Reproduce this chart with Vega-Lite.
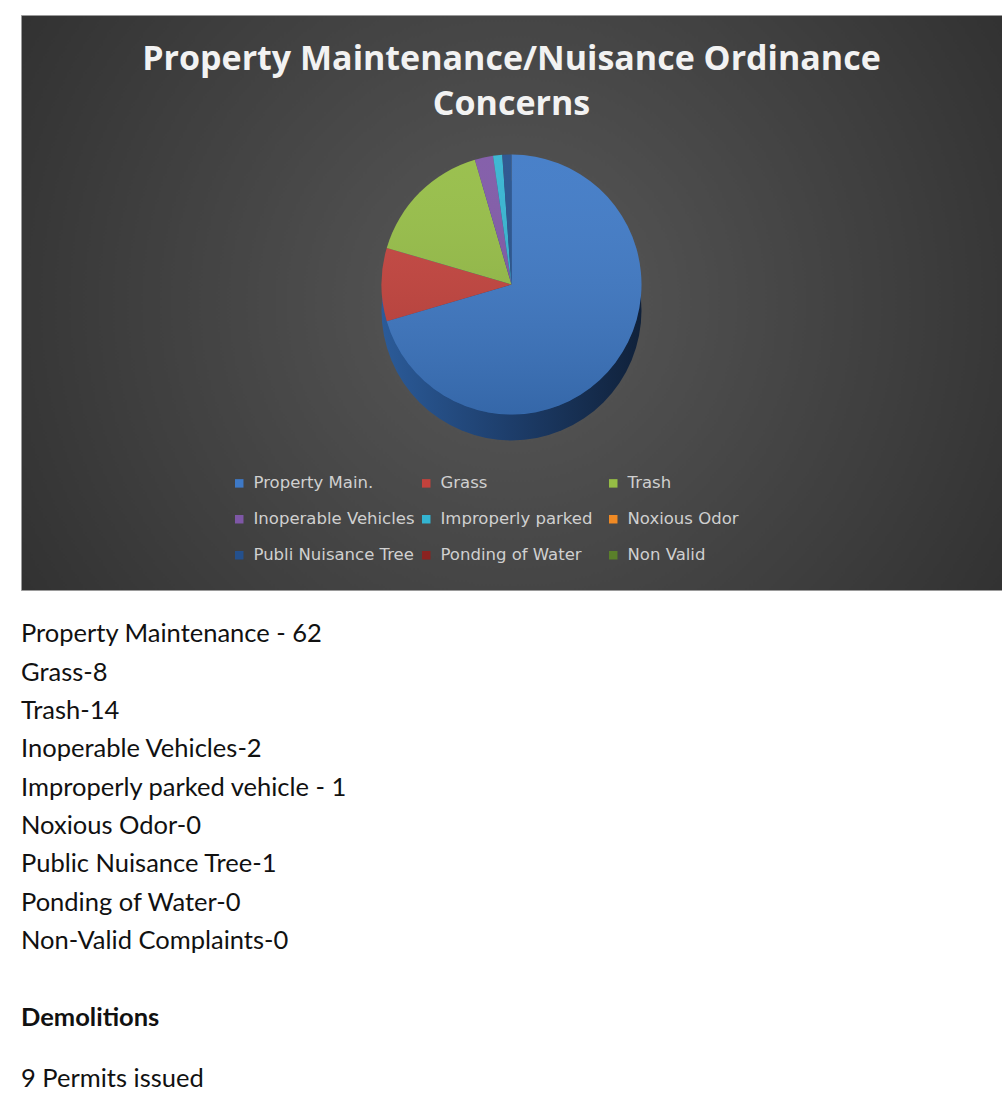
{
  "$schema": "https://vega.github.io/schema/vega-lite/v6.json",
  "background": "white",
  "padding": {"left": 20, "top": 14, "right": 0, "bottom": 0},
  "spacing": 25,
  "bounds": "flush",
  "datasets": {
    "concerns": [
      {"category": "Property Main.", "count": 62},
      {"category": "Grass", "count": 8},
      {"category": "Trash", "count": 14},
      {"category": "Inoperable Vehicles", "count": 2},
      {"category": "Improperly parked", "count": 1},
      {"category": "Noxious Odor", "count": 0},
      {"category": "Publi Nuisance Tree", "count": 1},
      {"category": "Ponding of Water", "count": 0},
      {"category": "Non Valid", "count": 0}
    ],
    "doc": [
      {"line": "Property Maintenance - 62", "kind": "item"},
      {"line": "Grass-8", "kind": "item"},
      {"line": "Trash-14", "kind": "item"},
      {"line": "Inoperable Vehicles-2", "kind": "item"},
      {"line": "Improperly parked vehicle - 1", "kind": "item"},
      {"line": "Noxious Odor-0", "kind": "item"},
      {"line": "Public Nuisance Tree-1", "kind": "item"},
      {"line": "Ponding of Water-0", "kind": "item"},
      {"line": "Non-Valid Complaints-0", "kind": "item"},
      {"line": "", "kind": "blank"},
      {"line": "Demolitions", "kind": "heading"},
      {"line": "9 Permits issued", "kind": "body"}
    ]
  },
  "vconcat": [
    {
      "width": 981,
      "height": 575,
      "view": {
        "fill": {
          "gradient": "radial",
          "x1": 0.5, "y1": 0.5, "r1": 0,
          "x2": 0.5, "y2": 0.5, "r2": 0.75,
          "stops": [
            {"offset": 0, "color": "#595959"},
            {"offset": 1, "color": "#262626"}
          ]
        },
        "stroke": "#9a9a9a",
        "strokeWidth": 1
      },
      "title": {
        "text": ["Property Maintenance/Nuisance Ordinance", "Concerns"],
        "font": "Open Sans",
        "fontWeight": "bold",
        "fontSize": 34,
        "color": "#f2f2f2",
        "lineHeight": 45,
        "anchor": "middle",
        "frame": "group",
        "offset": -107
      },
      "data": {"name": "concerns"},
      "transform": [{"window": [{"op": "row_number", "as": "n"}]}],
      "layer": [
        {
          "transform": [{"aggregate": [{"op": "sum", "field": "count", "as": "total"}]}],
          "mark": {
            "type": "arc",
            "radius": 130,
            "yOffset": 8,
            "fill": {
              "gradient": "linear",
              "x1": 0, "y1": 0, "x2": 1, "y2": 0,
              "stops": [
                {"offset": 0, "color": "#2b5b99"},
                {"offset": 0.5, "color": "#1d3d6a"},
                {"offset": 1, "color": "#10213a"}
              ]
            }
          },
          "encoding": {"theta": {"field": "total", "type": "quantitative"}}
        },
        {
          "mark": {"type": "arc", "radius": 130, "yOffset": -18},
          "encoding": {
            "theta": {"field": "count", "type": "quantitative", "stack": true},
            "order": {"field": "n", "type": "quantitative"},
            "color": {
              "field": "category",
              "type": "nominal",
              "scale": {
                "domain": ["Property Main.", "Grass", "Trash", "Inoperable Vehicles", "Improperly parked", "Noxious Odor", "Publi Nuisance Tree", "Ponding of Water", "Non Valid"],
                "range": ["#3E79C6", "#C4423C", "#95BD45", "#7E57A6", "#33B4D1", "#F08A24", "#24508C", "#8B2320", "#5A7F2A"]
              },
              "legend": {
                "title": null,
                "orient": "none",
                "direction": "horizontal",
                "legendX": 210,
                "legendY": 460,
                "columns": 3,
                "gridAlign": "all",
                "columnPadding": 3,
                "rowPadding": 19,
                "symbolType": "square",
                "symbolSize": 72,
                "symbolStrokeWidth": 0,
                "symbolOpacity": 1,
                "labelFont": "DejaVu Sans",
                "labelFontSize": 16.5,
                "labelColor": "#d0d0d0",
                "labelOffset": 6,
                "labelLimit": 400
              }
            }
          }
        },
        {
          "transform": [{"aggregate": [{"op": "sum", "field": "count", "as": "total"}]}],
          "mark": {
            "type": "arc",
            "radius": 130,
            "yOffset": -18,
            "fill": {
              "gradient": "linear",
              "x1": 0, "y1": 0, "x2": 0, "y2": 1,
              "stops": [
                {"offset": 0, "color": "rgba(255,255,255,0.06)"},
                {"offset": 1, "color": "rgba(0,0,0,0.15)"}
              ]
            }
          },
          "encoding": {"theta": {"field": "total", "type": "quantitative"}}
        }
      ]
    },
    {
      "width": 981,
      "height": 422,
      "view": {"stroke": null},
      "data": {"name": "doc"},
      "transform": [
        {"window": [{"op": "row_number", "as": "n"}]},
        {"filter": "datum.n <= 11"}
      ],
      "encoding": {
        "y": {"field": "n", "type": "ordinal", "axis": null, "scale": {"type": "point", "padding": 0.5}},
        "x": {"value": 0},
        "text": {"field": "line"}
      },
      "layer": [
        {
          "transform": [{"filter": "datum.kind != 'heading'"}],
          "mark": {"type": "text", "align": "left", "baseline": "middle", "font": "Lato", "fontSize": 25.5, "color": "#111111"}
        },
        {
          "transform": [{"filter": "datum.kind == 'heading'"}],
          "mark": {"type": "text", "align": "left", "baseline": "middle", "font": "Lato", "fontSize": 25.5, "fontWeight": "bold", "color": "#111111"}
        }
      ]
    },
    {
      "width": 981,
      "height": 34,
      "view": {"stroke": null},
      "data": {"name": "doc"},
      "transform": [{"filter": "datum.kind == 'body'"}],
      "mark": {"type": "text", "align": "left", "baseline": "middle", "font": "Lato", "fontSize": 25.5, "color": "#111111"},
      "encoding": {
        "x": {"value": 0},
        "text": {"field": "line"}
      }
    }
  ],
  "config": {
    "view": {"stroke": null}
  }
}
